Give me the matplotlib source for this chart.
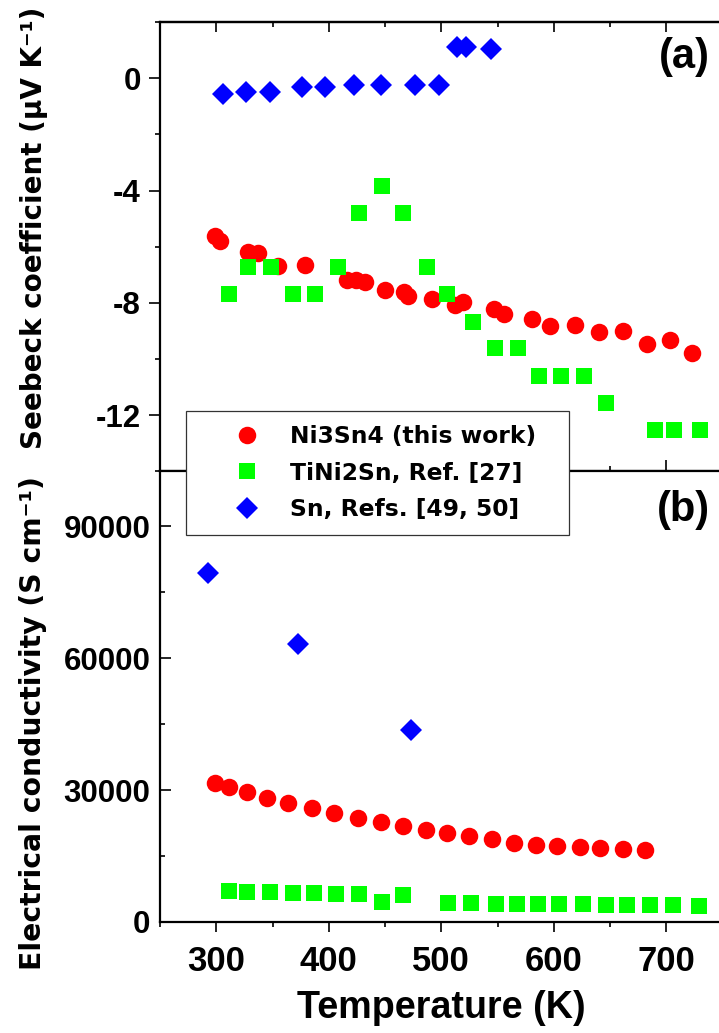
import matplotlib
matplotlib.use("Agg")
import matplotlib.pyplot as plt
from matplotlib.ticker import MultipleLocator

plt.rcParams["font.family"] = ["Liberation Sans", "DejaVu Sans"]
plt.rcParams["font.weight"] = "bold"
plt.rcParams["axes.unicode_minus"] = False

# (a) Seebeck coefficient
T_ni_a = [299, 303, 328, 337, 355, 379, 416, 424, 432, 450, 467, 470, 492, 512, 519,
          547, 556, 581, 597, 619, 640, 661, 683, 703, 723]
S_ni = [-5.63, -5.80, -6.19, -6.23, -6.67, -6.65, -7.17, -7.17, -7.26, -7.53, -7.60,
        -7.75, -7.85, -8.08, -7.97, -8.20, -8.40, -8.56, -8.83, -8.77, -9.05, -8.99,
        -9.48, -9.33, -9.80]
T_ti_a = [311, 328, 349, 368, 388, 408, 427, 447, 466, 487, 505, 528, 548, 568, 587,
          606, 627, 646, 690, 707, 730]
S_ti = [-7.70, -6.72, -6.72, -7.70, -7.70, -6.72, -4.81, -3.85, -4.81, -6.72, -7.70,
        -8.67, -9.62, -9.62, -10.59, -10.59, -10.59, -11.55, -12.52, -12.52, -12.52]
T_sn_a = [306, 326, 348, 376, 397, 422, 446, 477, 498, 514, 522, 544]
S_sn = [-0.57, -0.48, -0.48, -0.31, -0.31, -0.23, -0.23, -0.25, -0.25, 1.11, 1.11, 1.03]

# (b) electrical conductivity
T_ni_b = [299, 311, 327, 345, 364, 385, 405, 426, 446, 466, 486, 505, 525, 545, 565,
          584, 603, 623, 641, 661, 681]
sig_ni = [31670, 30680, 29620, 28260, 26970, 25830, 24770, 23710, 22730, 21820, 20980,
          20150, 19470, 18790, 18030, 17580, 17270, 17050, 16890, 16590, 16360]
T_ti_b = [311, 327, 348, 368, 387, 406, 427, 447, 466, 506, 526, 549, 567, 586, 605,
          626, 646, 665, 685, 706, 729]
sig_ti = [6990, 6900, 6780, 6670, 6600, 6450, 6370, 4550, 6150, 4250, 4250, 4170, 4170,
          4100, 4100, 4030, 3940, 3940, 3870, 3800, 3710]
T_sn_b = [293, 373, 473]
sig_sn = [79300, 63300, 43600]

labels = ["Ni3Sn4 (this work)", "TiNi2Sn, Ref. [27]", "Sn, Refs. [49, 50]"]

red = dict(marker="o", ms=12.6, color="#ff0000", ls="none", mew=0)
green = dict(marker="s", ms=11.2, color="#00ff00", ls="none", mew=0)
blue = dict(marker="D", ms=11.5, color="#0000ff", ls="none", mew=0)

fig = plt.figure(figsize=(7.19, 10.33), dpi=100)
ax_a = fig.add_axes([0.2225, 0.5436, 0.7826, 0.4351])
ax_b = fig.add_axes([0.2225, 0.1075, 0.7826, 0.4361])

h1, = ax_a.plot(T_ni_a, S_ni, label=labels[0], **red)
h2, = ax_a.plot(T_ti_a, S_ti, label=labels[1], **green)
h3, = ax_a.plot(T_sn_a, S_sn, label=labels[2], **blue)

ax_b.plot(T_ni_b, sig_ni, **red)
ax_b.plot(T_ti_b, sig_ti, **green)
ax_b.plot(T_sn_b, sig_sn, **blue)

for ax in (ax_a, ax_b):
    ax.set_xlim(250, 750)
    ax.xaxis.set_major_locator(MultipleLocator(100))
    ax.xaxis.set_minor_locator(MultipleLocator(50))
    for sp in ax.spines.values():
        sp.set_linewidth(1.6)

ax_a.set_ylim(-14, 2)
ax_a.yaxis.set_major_locator(MultipleLocator(4))
ax_a.yaxis.set_minor_locator(MultipleLocator(2))
ax_a.tick_params(axis="y", which="both", direction="out", width=1.2, labelsize=22.5, pad=6)
ax_a.tick_params(axis="y", which="major", length=7.7)
ax_a.tick_params(axis="y", which="minor", length=3.6)
ax_a.tick_params(axis="x", which="both", direction="inout", top=False, bottom=True,
                 labelbottom=False, width=1.2)
ax_a.tick_params(axis="x", which="major", length=15.8)
ax_a.tick_params(axis="x", which="minor", length=7.7)

top = ax_a.secondary_xaxis("top")
top.xaxis.set_major_locator(MultipleLocator(100))
top.xaxis.set_minor_locator(MultipleLocator(50))
top.tick_params(axis="x", which="both", direction="in", labeltop=False, width=1.2)
top.tick_params(axis="x", which="major", length=7.4)
top.tick_params(axis="x", which="minor", length=3.4)
top.spines["top"].set_linewidth(1.6)

ax_b.set_ylim(0, 102500)
ax_b.yaxis.set_major_locator(MultipleLocator(30000))
ax_b.yaxis.set_minor_locator(MultipleLocator(15000))
ax_b.tick_params(axis="y", which="both", direction="in", width=1.2, labelsize=22.5, pad=7)
ax_b.tick_params(axis="y", which="major", length=7.7)
ax_b.tick_params(axis="y", which="minor", length=3.9)
ax_b.tick_params(axis="x", which="both", direction="out", top=False, width=1.2,
                 labelsize=25, pad=9)
ax_b.tick_params(axis="x", which="major", length=7.4)
ax_b.tick_params(axis="x", which="minor", length=3.8)

fig.text(34 / 719, 1 - 228 / 1033, "Seebeck coefficient (μV K⁻¹)", rotation=90,
         ha="center", va="center", fontsize=20, family="DejaVu Sans", weight="bold")
fig.text(33 / 719, 1 - 723.5 / 1033, "Electrical conductivity (S cm⁻¹)", rotation=90,
         ha="center", va="center", fontsize=20.3, family="DejaVu Sans", weight="bold")
fig.text(441.7 / 719, 1 - 1008 / 1033, "Temperature (K)", ha="center", va="center",
         fontsize=27.2)

fig.text(710 / 719, 1 - 57 / 1033, "(a)", ha="right", va="center", fontsize=30)
fig.text(710 / 719, 1 - 510 / 1033, "(b)", ha="right", va="center", fontsize=30)

leg = fig.legend([h1, h2, h3], labels, loc="upper left",
                 bbox_to_anchor=(185.7 / 719, 1 - 533.3 / 1033, 383.3 / 719, 122.3 / 1033),
                 bbox_transform=fig.transFigure, mode="expand", borderaxespad=0,
                 prop=dict(family="DejaVu Sans", weight="bold", size=16.8),
                 handlelength=4.07, handletextpad=-0.22, borderpad=0.6, labelspacing=0.58,
                 fancybox=False, framealpha=1, edgecolor="#333333", numpoints=1)
leg.get_frame().set_linewidth(0.9)

fig.savefig("out.png", dpi=100)
